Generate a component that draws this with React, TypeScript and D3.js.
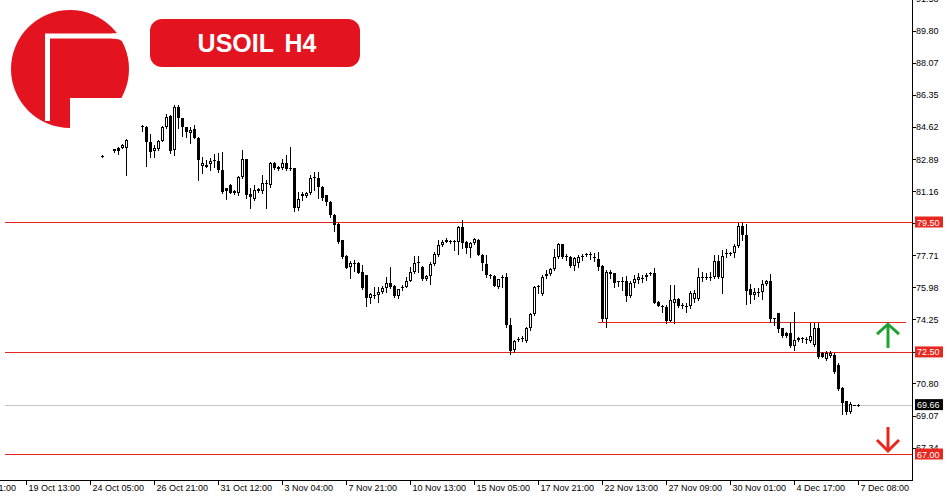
import React from "react";
import * as d3 from "d3";

// ---- Data (USOIL H4), null = no bar drawn ----
const openP: (number | null)[] = [
  83.05, null, null, 83.41, 83.47, 83.50, 83.50, null, null, null,
  84.66, 84.63, 83.79, 83.33, 83.42, 83.88, 84.60, 85.21, 83.38, 85.71,
  85.09, 84.60, 84.28, 84.51, 84.04, 82.53, 82.57, 82.61, 82.79, 82.79,
  82.30, 81.32, 81.49, 81.08, 81.05, 81.94, 82.88, 81.01, 80.74, 81.17,
  81.19, 81.54, 81.49, 82.70, 82.48, 82.39, 82.70, 82.43, 82.39, 80.24,
  80.90, 80.90, 81.05, 81.85, 81.85, 81.40, 80.95, 80.59, 79.88, 79.39,
  78.53, 77.67, 77.09, 77.31, 77.31, 76.82, 76.64, 75.39, 75.55, 75.57,
  75.74, 75.93, 76.23, 76.05, 75.51, 75.96, 76.01, 76.34, 76.79, 77.27,
  77.09, 76.41, 76.59, 77.24, 77.72, 78.26, 78.44, 78.46, 78.44, 78.44,
  79.21, 78.44, 78.08, 78.35, 78.53, 77.72, 77.24, 76.64, 76.59, 76.01,
  76.47, 76.55, 73.95, 72.60, 73.12, 73.18, 73.10, 73.77, 74.54, 76.01,
  75.62, 76.59, 76.70, 76.95, 77.60, 78.31, 77.60, 77.63, 77.13, 77.31,
  77.60, 77.70, 77.75, 77.60, 77.49, 77.13, 74.26, 76.70, 76.74, 76.30,
  76.28, 76.32, 75.51, 76.23, 76.38, 76.47, 76.55, 76.70, 76.74, 75.20,
  74.95, 74.90, 74.18, 75.15, 75.33, 75.03, 74.97, 74.97, 75.33, 75.33,
  76.47, 76.52, 76.47, 76.52, 77.41, 76.47, 77.78, 77.85, 77.85, 78.21,
  79.28, 78.80, 75.87, 75.57, 75.71, 75.74, 76.16, 76.34, 74.26, 74.58,
  73.77, 73.54, 73.54, 72.82, 73.14, 73.20, 73.18, 73.10, 72.87, 73.77,
  72.46, 72.10, 72.28, 72.33, 71.80, 70.54, 69.86, 69.28, 69.63, 69.60,
];
const highP: (number | null)[] = [
  83.10, null, null, 83.46, 83.56, 83.70, 83.95, null, null, null,
  84.73, 84.66, 84.24, 83.65, 83.90, 84.67, 85.30, 85.25, 85.80, 85.80,
  85.12, 84.62, 84.60, 84.73, 84.06, 83.02, 82.84, 82.93, 83.15, 83.20,
  83.29, 81.34, 81.55, 81.25, 81.98, 83.38, 82.92, 81.32, 81.49, 81.32,
  82.03, 81.76, 82.75, 82.75, 82.52, 82.88, 83.11, 83.56, 82.42, 81.13,
  81.13, 81.12, 82.03, 82.21, 82.19, 81.42, 80.98, 80.62, 79.92, 79.45,
  78.55, 77.70, 77.41, 77.45, 77.34, 77.18, 76.66, 75.66, 76.01, 76.01,
  76.07, 76.55, 77.09, 76.08, 75.90, 76.10, 76.55, 77.09, 77.67, 77.67,
  77.12, 76.62, 77.36, 77.90, 78.53, 78.55, 78.62, 78.52, 78.55, 79.28,
  79.61, 78.47, 78.42, 78.62, 78.57, 77.75, 77.72, 76.72, 76.64, 76.45,
  76.64, 76.77, 74.31, 73.15, 73.32, 73.36, 73.86, 74.60, 76.07, 76.10,
  76.64, 76.91, 77.00, 78.03, 78.38, 78.33, 77.77, 77.66, 77.63, 77.72,
  77.77, 77.85, 77.88, 77.85, 77.90, 77.16, 76.91, 76.91, 76.77, 76.34,
  76.55, 76.59, 76.34, 76.64, 76.74, 76.64, 76.74, 76.82, 77.01, 75.26,
  75.03, 75.03, 76.11, 76.11, 75.40, 75.15, 75.12, 75.80, 75.84, 77.01,
  76.82, 76.77, 76.82, 77.72, 77.72, 78.00, 78.06, 77.90, 78.31, 79.43,
  79.52, 79.40, 76.16, 75.93, 75.93, 76.37, 76.37, 76.70, 74.35, 74.62,
  73.80, 73.58, 74.10, 74.67, 73.30, 73.32, 73.32, 74.07, 74.07, 74.07,
  72.51, 72.55, 72.55, 72.46, 71.90, 70.60, 69.87, 69.80, 69.66, 69.70,
];
const lowP: (number | null)[] = [
  83.02, null, null, 83.27, 83.15, 83.47, 82.03, null, null, null,
  84.40, 82.53, 82.99, 83.02, 83.36, 83.85, 84.55, 83.24, 83.11, 84.58,
  84.15, 84.10, 83.74, 84.00, 81.76, 82.16, 82.45, 82.30, 82.48, 82.21,
  81.08, 80.72, 81.05, 81.02, 80.95, 81.85, 80.78, 80.27, 80.69, 81.10,
  81.05, 80.24, 81.40, 82.35, 82.30, 82.36, 82.30, 82.30, 80.09, 80.15,
  80.69, 80.87, 81.01, 81.22, 80.78, 80.69, 80.42, 79.79, 79.03, 78.38,
  77.54, 77.01, 76.50, 76.86, 76.74, 75.89, 74.99, 75.12, 75.39, 75.21,
  75.70, 75.74, 75.93, 75.48, 75.39, 75.85, 75.98, 76.30, 76.74, 76.82,
  76.38, 76.38, 76.16, 77.21, 77.68, 78.20, 78.40, 78.38, 77.99, 77.78,
  78.08, 77.81, 77.63, 78.32, 77.70, 76.91, 76.55, 76.50, 76.05, 75.97,
  76.01, 73.86, 72.37, 72.51, 73.08, 73.10, 73.06, 73.70, 74.50, 75.69,
  75.57, 76.50, 76.64, 76.91, 77.55, 77.57, 77.44, 77.10, 76.91, 77.10,
  77.45, 77.66, 77.51, 77.41, 76.91, 74.18, 73.83, 76.50, 76.01, 76.05,
  75.84, 75.26, 75.48, 76.01, 76.20, 76.28, 76.38, 76.64, 75.12, 74.95,
  74.67, 74.07, 74.15, 74.07, 74.90, 74.88, 74.67, 74.88, 75.21, 75.30,
  76.34, 76.41, 76.38, 76.47, 76.47, 75.69, 77.64, 77.70, 77.63, 78.15,
  78.53, 75.08, 75.12, 75.34, 75.51, 75.34, 76.10, 74.13, 73.95, 73.59,
  73.33, 73.28, 72.78, 72.60, 73.10, 73.05, 73.00, 73.05, 72.82, 72.16,
  72.20, 72.06, 72.24, 71.38, 70.45, 69.16, 69.16, 69.22, 69.62, 69.58,
];
const closeP: (number | null)[] = [
  83.08, null, null, 83.33, 83.33, 83.65, 83.90, null, null, null,
  84.60, 83.79, 83.29, 83.47, 83.88, 84.63, 85.17, 83.33, 85.71, 85.09,
  84.60, 84.33, 84.46, 84.04, 82.84, 82.70, 82.48, 82.79, 82.84, 82.30,
  81.13, 81.19, 81.08, 81.19, 81.91, 82.88, 80.95, 80.83, 81.22, 81.26,
  81.59, 81.62, 82.70, 82.39, 82.34, 82.70, 82.34, 82.34, 80.24, 80.72,
  81.01, 81.08, 81.85, 81.90, 81.40, 80.78, 80.59, 79.88, 79.34, 78.44,
  77.63, 77.04, 77.31, 77.24, 76.77, 75.93, 75.39, 75.60, 75.57, 75.74,
  75.93, 76.23, 75.98, 75.51, 75.87, 76.01, 76.34, 76.82, 77.27, 77.32,
  76.41, 76.59, 77.24, 77.78, 78.26, 78.44, 78.51, 78.44, 78.46, 79.21,
  78.35, 78.08, 78.38, 78.57, 77.72, 77.27, 76.64, 76.61, 76.07, 76.41,
  76.55, 73.95, 72.57, 73.10, 73.18, 73.23, 73.77, 74.54, 76.01, 76.05,
  76.52, 76.70, 76.95, 77.60, 78.31, 77.60, 77.68, 77.13, 77.54, 77.60,
  77.67, 77.77, 77.72, 77.55, 77.09, 74.26, 76.82, 76.82, 76.20, 76.28,
  76.32, 75.51, 76.23, 76.41, 76.52, 76.50, 76.64, 76.74, 75.15, 74.97,
  74.93, 74.18, 75.30, 75.33, 74.97, 74.97, 75.00, 75.69, 75.69, 76.52,
  76.52, 76.50, 76.55, 77.41, 76.52, 77.67, 77.85, 77.78, 78.21, 79.28,
  78.80, 75.80, 75.57, 75.71, 75.74, 76.16, 76.34, 74.26, 74.31, 73.72,
  73.36, 73.36, 72.82, 73.14, 73.23, 73.23, 73.14, 73.36, 73.77, 72.24,
  72.24, 72.46, 72.46, 71.43, 70.49, 69.73, 69.24, 69.72, 69.65, 69.66,
];

const priceTicks = [67.34, 69.07, 70.8, 72.52, 74.25, 75.98, 77.71, 79.43, 81.16, 82.89, 84.62, 86.35, 88.07, 89.8, 91.53];
const timeTickIdx = [-35, -19, -3, 13, 29, 45, 61, 77, 93, 109, 125, 141, 157, 173, 189];
const timeTickLabels = [
  "17 Oct 21:00", "19 Oct 13:00", "24 Oct 05:00", "26 Oct 21:00", "31 Oct 12:00",
  "3 Nov 04:00", "7 Nov 21:00", "10 Nov 13:00", "15 Nov 05:00", "17 Nov 21:00",
  "22 Nov 13:00", "27 Nov 09:00", "30 Nov 01:00", "4 Dec 17:00", "7 Dec 08:00",
];
const keyLevels = [79.5, 72.5, 67.0];
const keyLevelLabels = ["79.50", "72.50", "67.00"];
const supportLevel = 74.1;
const supportStartIdx = 124;
const lastPrice = 69.66;
const title = "USOIL H4";

const RED = "#e3131f";
const LINE_RED = "#e8281f";
const GREEN = "#21a034";
const FONT = "'Liberation Sans', Arial, sans-serif";

export default function App() {
  const W = 950;
  const H = 500;
  const axisX = 912;
  const axisY = 480;

  const x = d3.scaleLinear().domain([0, 189]).range([102, 858]);
  const y = d3.scaleLinear().domain([67, 79.5]).range([454, 222]);

  const candles = openP.map((o, i) => {
    const h = highP[i], l = lowP[i], c = closeP[i];
    if (o == null || h == null || l == null || c == null) return null;
    const cx = Math.round(x(i));
    const top = Math.round(y(Math.max(o, c)));
    const bot = Math.round(y(Math.min(o, c)));
    const bull = c >= o;
    const hgt = bot - top;
    let body;
    if (hgt < 2) {
      body = <rect x={cx - 1} y={top} width={3} height={Math.max(1, hgt)} fill="#000" />;
    } else if (bull) {
      body = (
        <rect x={cx - 0.5} y={top + 0.5} width={2} height={hgt - 1} fill="#fff" stroke="#000" strokeWidth={1} />
      );
    } else {
      body = <rect x={cx - 1} y={top} width={3} height={hgt} fill="#000" />;
    }
    return (
      <g key={i}>
        <line x1={cx + 0.5} x2={cx + 0.5} y1={Math.round(y(h))} y2={Math.round(y(l)) + 1} stroke="#000" strokeWidth={1} />
        {body}
      </g>
    );
  });

  const cyP = (v: number) => Math.round(y(v)) + 0.5;

  return (
    <svg
      width={W}
      height={H}
      viewBox={`0 0 ${W} ${H}`}
      style={{ position: "absolute", left: 0, top: 0, background: "#fff" }}
      fontFamily={FONT}
    >
      <rect x={0} y={0} width={W} height={H} fill="#fff" />

      {/* horizontal levels */}
      {keyLevels.map((v, i) => (
        <line key={"lv" + i} x1={5} x2={axisX} y1={cyP(v)} y2={cyP(v)} stroke={LINE_RED} strokeWidth={1} />
      ))}
      <line x1={x(supportStartIdx)} x2={axisX - 6} y1={cyP(supportLevel)} y2={cyP(supportLevel)} stroke={LINE_RED} strokeWidth={1} />
      <line x1={5} x2={axisX} y1={cyP(lastPrice)} y2={cyP(lastPrice)} stroke="#c4c4c4" strokeWidth={1} />

      {/* candles */}
      <g>{candles}</g>

      {/* arrows */}
      <g fill="none" stroke={GREEN} strokeWidth={3}>
        <line x1={888} x2={888} y1={y(72.5) - 4} y2={y(supportLevel) + 2} />
        <polyline points={`877,${y(supportLevel) + 12} 888,${y(supportLevel) + 2} 899,${y(supportLevel) + 12}`} />
      </g>
      <g fill="none" stroke={LINE_RED} strokeWidth={3}>
        <line x1={888} x2={888} y1={y(67) - 27} y2={y(67) - 3} />
        <polyline points={`877,${y(67) - 14} 888,${y(67) - 3} 899,${y(67) - 14}`} />
      </g>

      {/* axes */}
      <line x1={axisX + 0.5} x2={axisX + 0.5} y1={0} y2={axisY + 1} stroke="#000" strokeWidth={1} />
      <line x1={0} x2={axisX + 1} y1={axisY + 0.5} y2={axisY + 0.5} stroke="#000" strokeWidth={1} />

      {priceTicks.map((v, i) => (
        <g key={"pt" + i}>
          <line x1={axisX + 1} x2={axisX + 4} y1={cyP(v)} y2={cyP(v)} stroke="#000" />
          <text x={916} y={y(v) + 3.5} fontSize={9} fill="#000">
            {v.toFixed(2)}
          </text>
        </g>
      ))}

      {timeTickIdx.map((idx, i) => {
        const tx = Math.round(x(idx)) + 0.5;
        return (
          <g key={"tt" + i}>
            <line x1={tx} x2={tx} y1={axisY} y2={axisY + 5} stroke="#000" />
            <text x={tx + 2} y={491} fontSize={9} fill="#000">
              {timeTickLabels[i]}
            </text>
          </g>
        );
      })}

      {/* highlighted price labels */}
      {keyLevels.map((v, i) => (
        <g key={"kl" + i}>
          <rect x={915} y={y(v) - 5.5} width={28} height={11} fill={LINE_RED} />
          <text x={917} y={y(v) + 3.5} fontSize={9} fill="#fff">
            {keyLevelLabels[i]}
          </text>
        </g>
      ))}
      <rect x={915} y={y(lastPrice) - 5.5} width={28} height={11} fill="#000" />
      <text x={917} y={y(lastPrice) + 3.5} fontSize={9} fill="#fff">
        {lastPrice.toFixed(2)}
      </text>

      {/* logo */}
      <g>
        <circle cx={70} cy={69} r={59} fill={RED} />
        <rect x={45} y={37} width={5} height={84} fill="#fff" />
        <rect x={45} y={33.5} width={75} height={5} fill="#fff" />
        <path d="M112,33.5 L140,33.5 L140,57 L128,57 Q127,39 114,38.5 L112,38.5 Z" fill="#fff" />
        <rect x={70} y={98} width={70} height={40} fill="#fff" />
      </g>

      {/* title */}
      <rect x={150} y={19} width={210} height={48} rx={12} ry={12} fill={RED} />
      <text x={257} y={52} textAnchor="middle" fontSize={25} fontWeight="bold" fill="#fff" wordSpacing={4}>
        {title}
      </text>
    </svg>
  );
}
